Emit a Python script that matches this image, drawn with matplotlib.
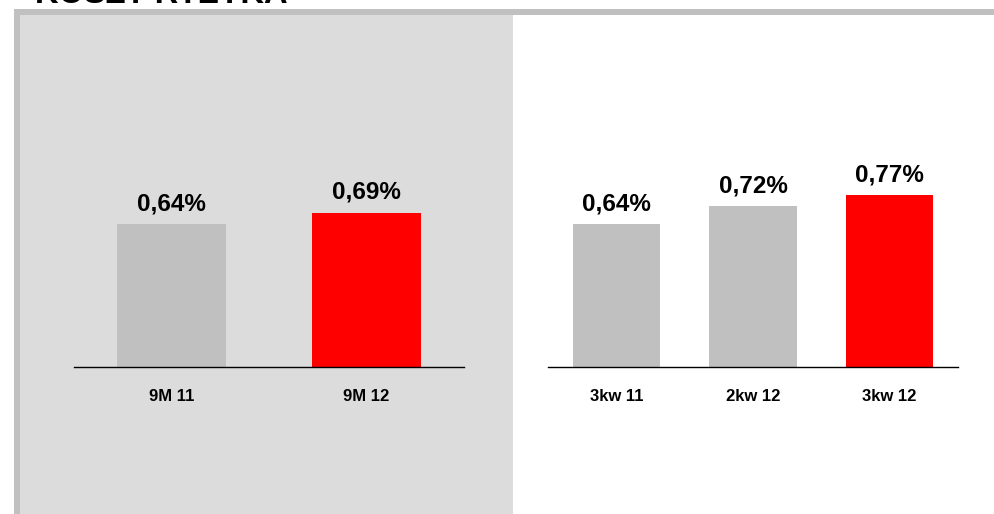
import matplotlib
matplotlib.use('Agg')
import matplotlib.pyplot as plt
from matplotlib.patches import Rectangle

# data
title = 'KOSZT RYZYKA'
left_labels = ['9M 11', '9M 12']
left_values = [0.64, 0.69]
left_colors = ['#C0C0C0', '#FF0000']
right_labels = ['3kw 11', '2kw 12', '3kw 12']
right_values = [0.64, 0.72, 0.77]
right_colors = ['#C0C0C0', '#C0C0C0', '#FF0000']

W, H = 994, 514
plt.rcParams['font.family'] = ['Liberation Sans', 'DejaVu Sans']
fig = plt.figure(figsize=(W / 100, H / 100), dpi=100)

def px_box(x0, y0, x1, y1):
    # pixel box (top-left origin) -> figure fraction rect
    return [x0 / W, 1 - y1 / H, (x1 - x0) / W, (y1 - y0) / H]

# frame: grey bands and shaded left panel
for (x0, y0, x1, y1), c in [((14, 9, W, 15), '#C0C0C0'),
                            ((14, 9, 20, H), '#C0C0C0'),
                            ((20, 15, 513, H), '#DCDCDC')]:
    r = px_box(x0, y0, x1, y1)
    fig.patches.append(Rectangle((r[0], r[1]), r[2], r[3], transform=fig.transFigure,
                                 facecolor=c, edgecolor='none', zorder=-10))

# title sits mostly above the visible area, as in the source slide
fig.text(35 / W, 1 - 10 / H, title, fontsize=23.5, fontweight='bold',
         ha='left', va='bottom')

scale = 223.5  # px per unit
top_lim = (367 - 15) / scale

def draw(rect, labels, values, colors, width):
    ax = fig.add_axes(px_box(*rect))
    ax.patch.set_alpha(0)
    x = range(len(values))
    ax.bar(x, values, width=width, color=colors, zorder=2)
    for xi, v in zip(x, values):
        ax.annotate(f'{v:.2f}%'.replace('.', ','), (xi, v), xytext=(0, 10),
                    textcoords='offset points', ha='center', va='baseline',
                    fontsize=17.5, fontweight='bold')
    ax.set_xlim(-0.5, len(values) - 0.5)
    ax.set_ylim(0, top_lim)
    ax.set_xticks(list(x))
    ax.set_xticklabels(labels, fontsize=12, fontweight='bold')
    ax.tick_params(axis='x', length=0, pad=16)
    ax.set_yticks([])
    for s in ['top', 'left', 'right']:
        ax.spines[s].set_visible(False)
    ax.spines['bottom'].set_linewidth(1)
    ax.spines['bottom'].set_color('black')
    return ax

draw((74, 15, 464, 367), left_labels, left_values, left_colors, 0.56)
draw((548, 15, 958, 367), right_labels, right_values, right_colors, 0.64)

fig.savefig('out.png', dpi=100)
